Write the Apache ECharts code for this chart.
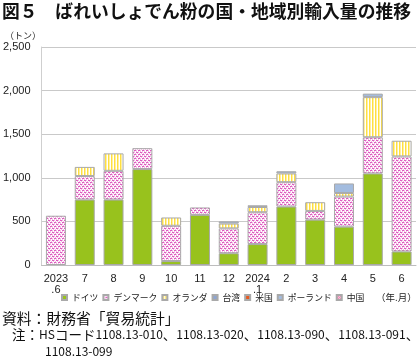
<!DOCTYPE html>
<html><head><meta charset="utf-8">
<script src="https://cdn.jsdelivr.net/npm/echarts@6/dist/echarts.min.js"></script>
<style>html,body{margin:0;padding:0;background:#fff}#c{width:420px;height:363px}</style>
</head><body><div id="c"></div>
<script>
var categories = ['2023\n.6','7','8','9','10','11','12','2024\n.1','2','3','4','5','6'];
var germany   = [0,   750, 750, 1100, 45, 575, 135, 240, 670, 520, 440, 1050, 155];
var denmark   = [565, 270, 330, 240, 405, 85,  285, 365, 280, 100, 345, 415, 1090];
var netherlands=[0,   105, 200, 0,   95,  0,   55,  60,  100, 100, 40,  460, 180];
var taiwan    = [null,null,null,null,null,null,null,null,null,null,null,null,null];
var usa       = [null,null,null,null,null,null,null,null,null,null,null,null,null];
var poland    = [0,   0,   0,   0,   0,   0,   25,  20,  25,  0,   110, 40,  0];
var china     = [null,null,null,null,null,null,null,null,null,null,null,null,null];
var yTicks = [0,500,1000,1500,2000,2500];

function pattern(w,h,rows){
  var c=document.createElement('canvas');c.width=w;c.height=h;var ctx=c.getContext('2d');
  for(var y=0;y<h;y++)for(var x=0;x<w;x++){ctx.fillStyle=rows[y][x];ctx.fillRect(x,y,1,1);}
  return {image:c,repeat:'repeat'};
}
var M='#dc5cbf',P='#f4bde6',W='#ffffff';
var pinkPat = pattern(4,4,[[M,M,P,W],[W,P,W,P],[P,W,M,M],[P,W,P,W]]);
var Y1='#ffdf3f',Y2='#fff0a0';
var yellowPat = pattern(3,1,[[Y1,Y2,W]]);
var Q='#e86aa0',R='#fbe2ee';
var chinaPat = pattern(2,2,[[Q,R],[R,Q]]);

var fontJP='"Noto Sans CJK JP", sans-serif';
var fontLat='"Liberation Sans", Arial, sans-serif';
function zeroNull(a){return a.map(function(v){return v===0?null:v;});}
function mk(name,data,color){
  return {name:name,type:'bar',stack:'s',data:zeroNull(data),barWidth:20,
    itemStyle:{color:color,borderColor:'#a9a9a9',borderWidth:1}};
}
var richNote={
  j:{fontSize:13.5,fontFamily:fontJP,fill:'#111',lineHeight:16},
  l:{fontSize:12,fontFamily:fontJP,fill:'#111',lineHeight:16}
};
var chart=echarts.init(document.getElementById('c'),null,{renderer:'canvas'});
chart.setOption({
  animation:false,
  grid:{left:35,right:4,top:47,height:218},
  legend:{left:61,top:293,itemWidth:5,itemHeight:5,itemGap:4,padding:0,
    textStyle:{fontSize:8.8,fontFamily:fontJP,color:'#222'},
    data:['ドイツ','デンマーク','オランダ','台湾','米国','ポーランド','中国'].map(function(n){return {name:n,icon:'rect'};})},
  xAxis:{type:'category',data:categories,
    axisLine:{lineStyle:{color:'#bdbdbd',width:1}},axisTick:{show:false},
    axisLabel:{fontSize:11,fontFamily:fontLat,color:'#222',margin:8,lineHeight:11,interval:0}},
  yAxis:{type:'value',min:yTicks[0],max:yTicks[yTicks.length-1],interval:500,
    axisLine:{show:true,lineStyle:{color:'#cfcfcf'}},axisTick:{show:false},
    splitLine:{lineStyle:{color:'#c9c9c9',width:1}},
    axisLabel:{fontSize:11,fontFamily:fontLat,color:'#222',margin:11,
      formatter:function(v){return v.toLocaleString('en-US');}}},
  series:[
    mk('ドイツ',germany,'#98c21d'),
    mk('デンマーク',denmark,pinkPat),
    mk('オランダ',netherlands,yellowPat),
    mk('台湾',taiwan,'#8da5d2'),
    mk('米国',usa,'#e8591f'),
    mk('ポーランド',poland,'#a3bcdf'),
    mk('中国',china,chinaPat)
  ],
  graphic:[
    {type:'text',left:2,top:2,style:{text:'図５　ばれいしょでん粉の国・地域別輸入量の推移',font:'bold 17.8px '+fontJP,fill:'#111'}},
    {type:'text',left:5,top:31,style:{text:'（トン）',font:'9px '+fontJP,fill:'#222'}},
    {type:'text',left:376,top:293,style:{text:'（年.月）',font:'9.5px '+fontJP,fill:'#222'}},
    {type:'text',left:2,top:311,style:{text:'資料：財務省「貿易統計」',font:'14.8px '+fontJP,fill:'#111'}},
    {type:'text',left:12,top:328,style:{text:'{j|注：}{l|HS}{j|コード}{l|1108.13-010}{j|、}{l|1108.13-020}{j|、}{l|1108.13-090}{j|、}{l|1108.13-091}{j|、}',rich:richNote}},
    {type:'text',left:45,top:345,style:{text:'{l|1108.13-099}',rich:richNote}}
  ]
});
</script></body></html>
